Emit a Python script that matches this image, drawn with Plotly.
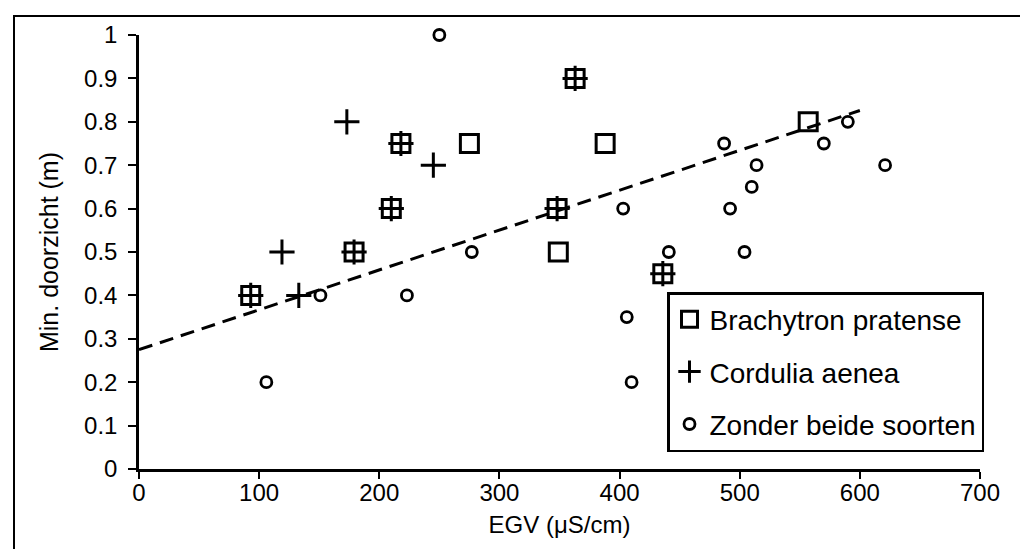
import plotly.graph_objects as go

# Brachytron pratense (square); points shared with Cordulia show as square+cross
brachytron_x = [275, 388, 349, 557, 93, 179, 210, 218, 363, 348, 436]
brachytron_y = [0.75, 0.75, 0.50, 0.80, 0.40, 0.50, 0.60, 0.75, 0.90, 0.60, 0.45]

# Cordulia aenea (plus)
cordulia_x = [173, 245, 119, 133, 93, 179, 210, 218, 363, 348, 436]
cordulia_y = [0.80, 0.70, 0.50, 0.40, 0.40, 0.50, 0.60, 0.75, 0.90, 0.60, 0.45]

# Zonder beide soorten (circle)
zonder_x = [250, 106, 151, 223, 277, 403, 441, 406, 410, 487, 514, 510, 492, 504, 570, 590, 621]
zonder_y = [1.00, 0.20, 0.40, 0.40, 0.50, 0.60, 0.50, 0.35, 0.20, 0.75, 0.70, 0.65, 0.60, 0.50, 0.75, 0.80, 0.70]

# Trend line end points
trend_x = [0, 600]
trend_y = [0.275, 0.826]

x_ticks = [0, 100, 200, 300, 400, 500, 600, 700]
y_ticks = [0, 0.1, 0.2, 0.3, 0.4, 0.5, 0.6, 0.7, 0.8, 0.9, 1]
y_ticklabels = ["0", "0.1", "0.2", "0.3", "0.4", "0.5", "0.6", "0.7", "0.8", "0.9", "1"]

FONT = "Arial, Liberation Sans, sans-serif"

fig = go.Figure()

fig.add_trace(go.Scatter(
    x=trend_x, y=trend_y, mode="lines", showlegend=False, cliponaxis=False,
    line=dict(color="black", width=3, dash="14px,8px"), hoverinfo="skip"))

fig.add_trace(go.Scatter(
    x=brachytron_x, y=brachytron_y, mode="markers", name="Brachytron pratense",
    legendgroup="a", cliponaxis=False,
    marker=dict(symbol="square-open", size=18, color="black", line=dict(width=3, color="black"))))

fig.add_trace(go.Scatter(
    x=cordulia_x, y=cordulia_y, mode="markers", name="Cordulia aenea",
    legendgroup="b", cliponaxis=False,
    marker=dict(symbol="cross-thin-open", size=18, color="black", line=dict(width=3, color="black"))))

fig.add_trace(go.Scatter(
    x=zonder_x, y=zonder_y, mode="markers", name="Zonder beide soorten",
    legendgroup="c", cliponaxis=False,
    marker=dict(symbol="circle-open", size=11, color="black", line=dict(width=2.8, color="black"))))

W, H = 1028, 549
L, R, T, B = 131, 56, 27, 88
pw, ph = W - L - R, H - T - B

def px(xpix):
    return (xpix - L) / pw

def py(ypix):
    return (H - B - ypix) / ph

fig.update_layout(
    width=W, height=H,
    margin=dict(l=L, r=R, t=T, b=B),
    paper_bgcolor="white", plot_bgcolor="white",
    font=dict(family=FONT, color="black", size=24),
    legend=dict(
        x=px(659), y=py(284), xanchor="left", yanchor="top",
        bgcolor="white", bordercolor="black", borderwidth=2.5,
        font=dict(size=28, family=FONT, color="black"),
        tracegroupgap=13, traceorder="grouped",
    ),
    shapes=[dict(type="rect", xref="paper", yref="paper",
                 x0=px(6), x1=px(1025), y0=py(548), y1=py(8),
                 line=dict(color="black", width=2), layer="below")],
)

fig.update_xaxes(
    range=[0, 700], tickvals=x_ticks, showgrid=False, zeroline=False,
    showline=True, linecolor="black", linewidth=2.5,
    ticks="outside", ticklen=7, tickwidth=2, tickcolor="black",
    tickfont=dict(size=24), ticklabelstandoff=-7,
    title=dict(text="EGV (μS/cm)", font=dict(size=24), standoff=12),
)
fig.update_yaxes(
    range=[0, 1], tickvals=y_ticks, ticktext=y_ticklabels, showgrid=False, zeroline=False,
    showline=True, linecolor="black", linewidth=2.5,
    ticks="outside", ticklen=8, tickwidth=2, tickcolor="black",
    tickfont=dict(size=24), ticklabelstandoff=6,
    title=dict(text="Min. doorzicht (m)", font=dict(size=25), standoff=19),
)

fig.write_html("out.html")
